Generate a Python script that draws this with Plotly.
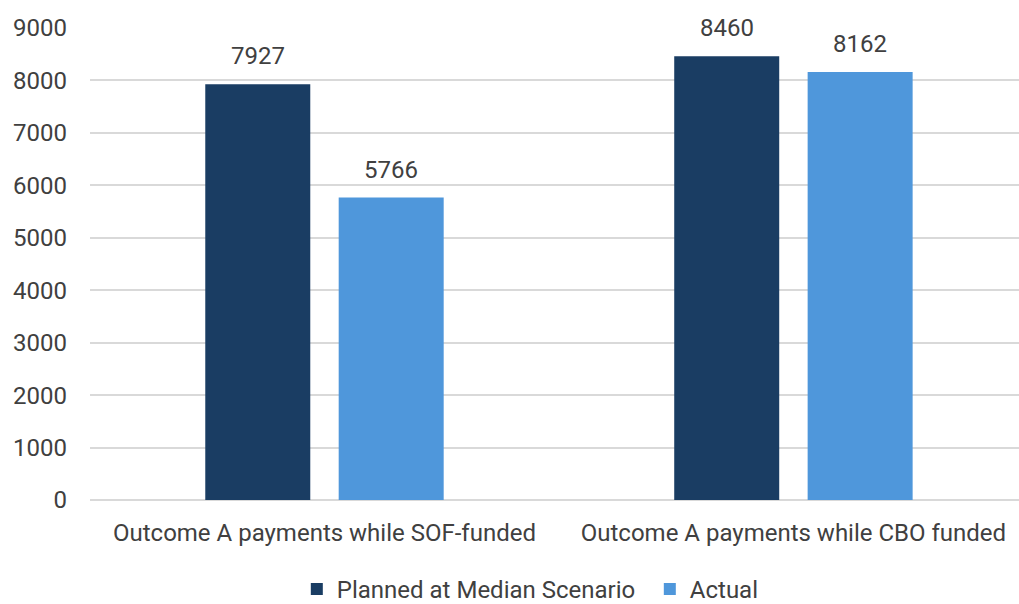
import plotly.graph_objects as go

categories = ["Outcome A payments while SOF-funded", "Outcome A payments while CBO funded"]
planned = [7927, 8460]
actual = [5766, 8162]
series_names = ["Planned at Median Scenario", "Actual"]
y_ticks = [0, 1000, 2000, 3000, 4000, 5000, 6000, 7000, 8000, 9000]

NAVY = "#1a3d63"
SKY = "#4f97db"
TEXT = "#404040"
FONT = "Roboto"
SIZE = 24

fig = go.Figure()
series = [(series_names[0], planned, NAVY), (series_names[1], actual, SKY)]
for idx, (name, vals, color) in enumerate(series):
    fig.add_trace(go.Bar(
        x=categories, y=vals, name=name, marker_color=color,
        marker_line_width=0, offsetgroup=str(idx),
    ))

# value labels above each bar, placed on the bar's own x offset
slot = (1 - 0.431) / 2
for idx, (name, vals, color) in enumerate(series):
    for ci, v in enumerate(vals):
        fig.add_annotation(
            x=ci + (idx - 0.5) * slot, y=v, xref="x", yref="y",
            text=str(v), showarrow=False, yanchor="bottom", yshift=12,
            font=dict(size=SIZE, color=TEXT, family=FONT),
        )

fig.update_layout(
    width=1019, height=604,
    margin=dict(l=90, r=0, t=28, b=104),
    paper_bgcolor="white", plot_bgcolor="white",
    barmode="group", bargap=0.431, bargroupgap=0.213,
    font=dict(family=FONT, size=SIZE, color=TEXT),
    showlegend=True,
    legend=dict(orientation="h", x=0.6026, xanchor="center",
                yref="container", y=0.024, yanchor="middle",
                font=dict(size=SIZE, color=TEXT, family=FONT),
                itemwidth=30, traceorder="normal", entrywidth=308),
)
fig.update_xaxes(range=[-0.5, 1.481], showgrid=False, showline=False, ticks="",
                 tickfont=dict(size=SIZE, color=TEXT), ticklabelstandoff=16,
                 automargin=False)
fig.update_yaxes(range=[0, 9000], tickvals=y_ticks, showgrid=True, gridcolor="#d9d9d9",
                 gridwidth=2, zeroline=True, zerolinecolor="#d9d9d9", zerolinewidth=2,
                 showline=False, ticks="", tickfont=dict(size=SIZE, color=TEXT),
                 ticklabelstandoff=22, automargin=False)

fig.write_html("out.html")
